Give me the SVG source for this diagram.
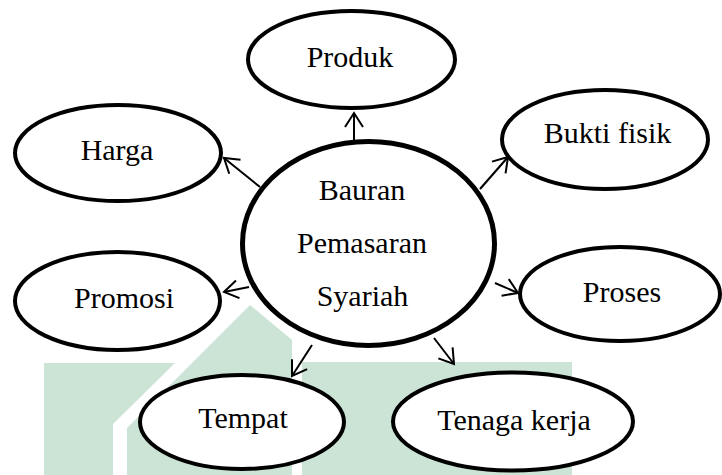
<svg xmlns="http://www.w3.org/2000/svg" width="722" height="475" viewBox="0 0 722 475">
  <style>
    .node { fill: #ffffff; stroke: #000000; stroke-width: 4; }
    .hub { fill: #ffffff; stroke: #000000; stroke-width: 5; }
    .label { font-family: "Liberation Serif", "Times New Roman", serif; font-size: 30px; fill: #000000; text-anchor: middle; }
    .conn { stroke: #000000; stroke-width: 2; fill: none; marker-end: url(#arrow); }
    .wm { fill: #cbe4d5; }
  </style>
  <defs>
    <marker id="arrow" markerUnits="userSpaceOnUse" markerWidth="20" markerHeight="22" refX="15" refY="11" orient="auto">
      <path d="M1,2 L15,11 L1,20" fill="none" stroke="#000000" stroke-width="2"/>
    </marker>
  </defs>
  <rect width="722" height="475" fill="#ffffff"/>
  <g id="watermark">
    <polygon class="wm" points="44,363 175,363 113,424 113,475 44,475"/>
    <polygon class="wm" points="127,428 250,305 292,340 292,475 127,475"/>
    <polygon class="wm" points="302,362 572,362 572,475 302,475"/>
  </g>
  <g id="connectors">
    <line class="conn" x1="354" y1="140" x2="354" y2="113"/>
    <line class="conn" x1="260" y1="187" x2="224" y2="158"/>
    <line class="conn" x1="480" y1="189" x2="508" y2="157"/>
    <line class="conn" x1="249" y1="287" x2="224" y2="292"/>
    <line class="conn" x1="495" y1="283" x2="518" y2="293"/>
    <line class="conn" x1="312" y1="345" x2="292" y2="376"/>
    <line class="conn" x1="434" y1="338" x2="454" y2="364"/>
  </g>
  <g id="node-center">
    <ellipse class="hub" cx="368.5" cy="243.5" rx="126" ry="102"/>
    <text class="label" x="362" y="200">Bauran</text>
    <text class="label" x="362" y="253">Pemasaran</text>
    <text class="label" x="362.5" y="306">Syariah</text>
  </g>
  <g id="node-produk">
    <ellipse class="node" cx="351.5" cy="59.5" rx="103.5" ry="48.5"/>
    <text class="label" x="350" y="67">Produk</text>
  </g>
  <g id="node-harga">
    <ellipse class="node" cx="118" cy="153" rx="103" ry="48"/>
    <text class="label" x="117" y="160">Harga</text>
  </g>
  <g id="node-bukti-fisik">
    <ellipse class="node" cx="605" cy="139.5" rx="103" ry="49.5"/>
    <text class="label" x="607.5" y="143">Bukti fisik</text>
  </g>
  <g id="node-promosi">
    <ellipse class="node" cx="117.5" cy="301" rx="102.5" ry="49"/>
    <text class="label" x="124" y="308">Promosi</text>
  </g>
  <g id="node-proses">
    <ellipse class="node" cx="620" cy="294" rx="100" ry="47"/>
    <text class="label" x="622" y="302">Proses</text>
  </g>
  <g id="node-tempat">
    <ellipse class="node" cx="242" cy="422" rx="102" ry="47"/>
    <text class="label" x="243" y="428">Tempat</text>
  </g>
  <g id="node-tenaga-kerja">
    <ellipse class="node" cx="513" cy="421.5" rx="120" ry="49"/>
    <text class="label" x="514" y="430">Tenaga kerja</text>
  </g>
</svg>
